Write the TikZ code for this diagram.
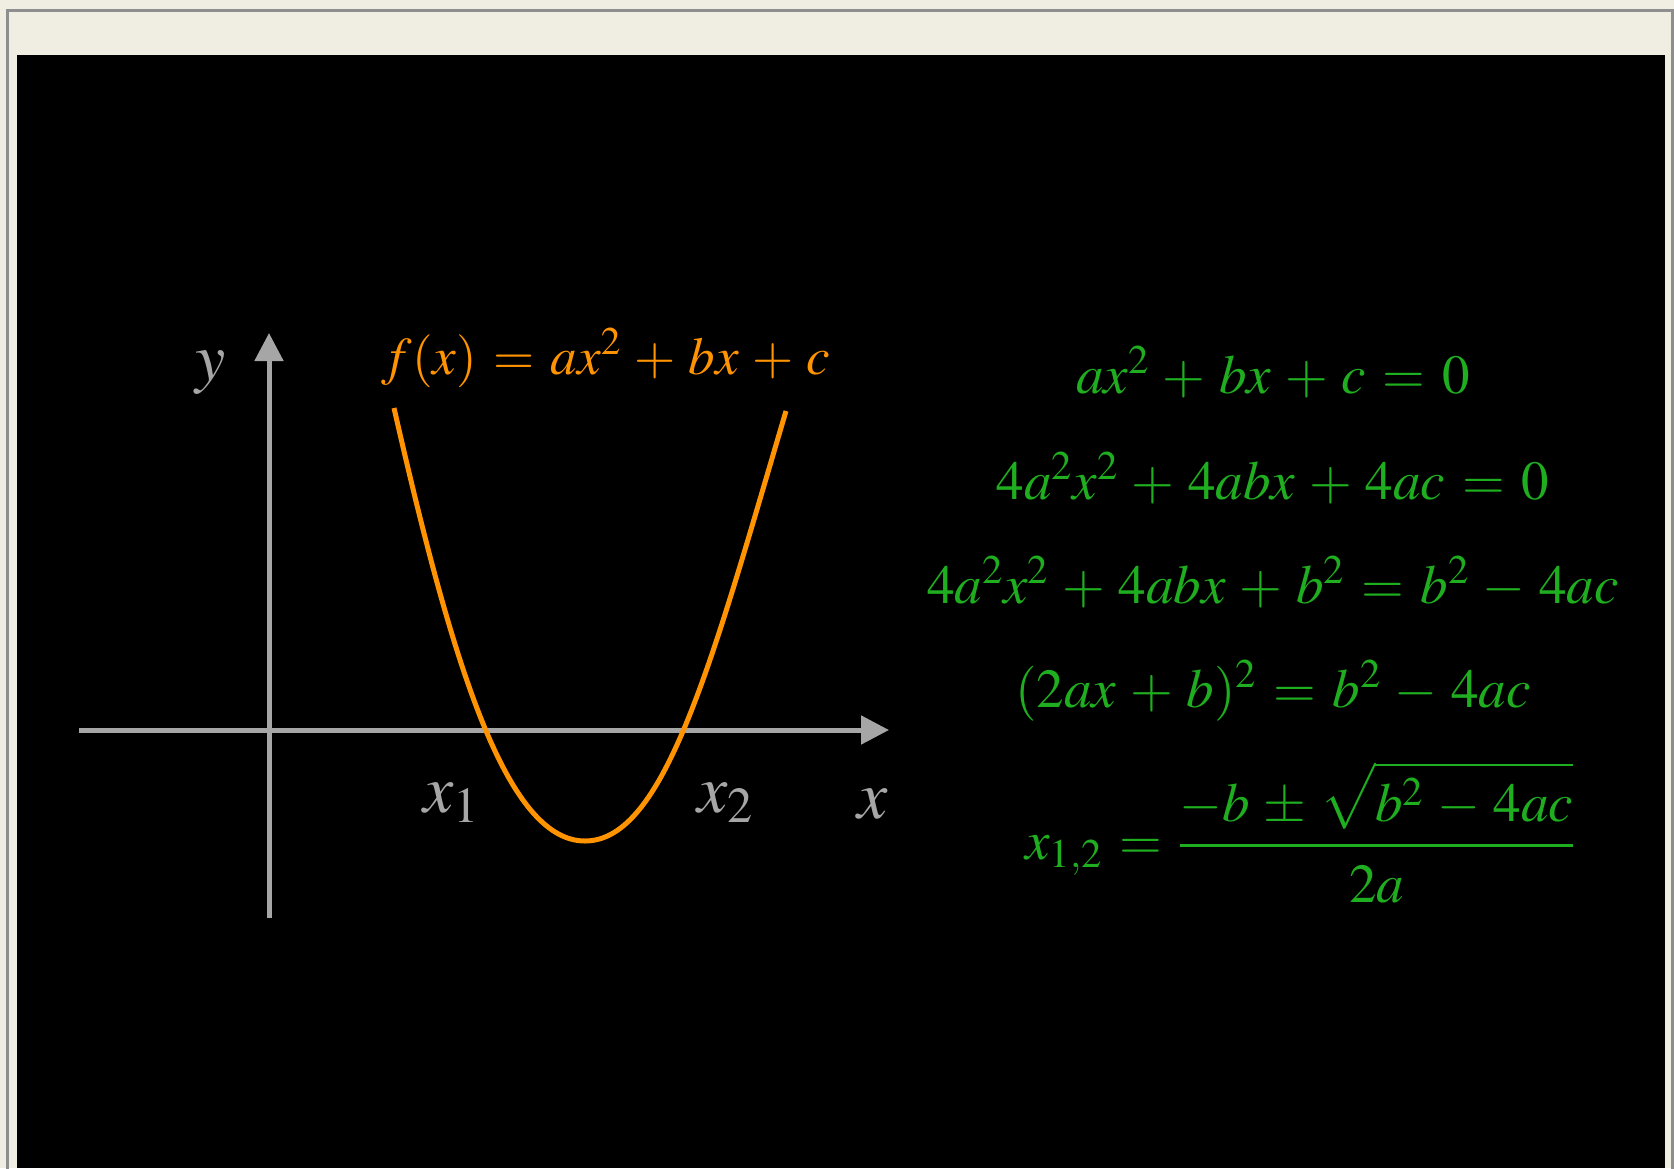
\documentclass[tikz,border=0pt]{standalone}
\usepackage{amsmath}
\usepackage{mathptmx}
\usepackage{tikz}
\usepackage{xcolor}
\usetikzlibrary{arrows.meta,positioning}
\definecolor{paper}{HTML}{F0EDE3}
\definecolor{frameline}{HTML}{8E8E8E}
\definecolor{axisgray}{HTML}{A6A6A6}
\definecolor{parab}{HTML}{FF9400}
\definecolor{eqgreen}{HTML}{1FAE1F}
% wider math spacing, as on the slide
\newcommand{\widemath}{\medmuskip=4.5mu\relax\thickmuskip=5.5mu\relax}

\begin{document}
\begin{tikzpicture}[
  x=1pt,y=-1pt,
  axis/.style={line width=5pt,draw=axisgray,-{Triangle[length=28pt,width=28pt]}},
  curve/.style={line width=5pt,draw=parab},
  lbl/.style={text=axisgray,inner sep=0pt,anchor=base,font=\fontsize{68}{72}\selectfont},
  eq/.style={text=eqgreen,inner sep=0pt,anchor=base,font=\fontsize{55}{60}\selectfont\widemath}
]
\useasboundingbox (0,0) rectangle (1674,1168);
% page and slide
\fill[paper] (0,0) rectangle (1674,1168);
\draw[frameline,line width=3pt] (7,1170) -- (7,10.5) -- (1672.5,10.5) -- (1672.5,1170);
\fill[black] (17,55) rectangle (1665,1168);

% axes
\coordinate (O) at (269,730);
\draw[axis] (O |- 0,918) -- (O |- 0,333);
\draw[axis] (79,730) -- (889,730);

% parabola
\draw[curve] (394,408) .. controls (451,658) and (505,841) .. (585,841)
  .. controls (665,841) and (712,661) .. (786,411);

% labels
\node[lbl] (ylab) at (211,380) {$y$};
\node[lbl] (xlab) at (873,818) {$x$};
\node[lbl] (xone) at (451,812) {$x_1$};
\node[lbl] (xtwo) at (725,812) {$x_2$};
\node[eq,text=parab,font=\fontsize{53}{60}\selectfont\widemath] (flab) at (606,374) {$f(x) = ax^2 + bx + c$};

% derivation
\node[eq] (eqa) at (1273,393) {$ax^2 + bx + c = 0$};
\node[eq] (eqb) at (1273,499) {$4a^2x^2 + 4abx + 4ac = 0$};
\node[eq] (eqc) at (1273,603) {$4a^2x^2 + 4abx + b^2 = b^2 - 4ac$};
\node[eq] (eqd) at (1273,707) {$(2ax + b)^2 = b^2 - 4ac$};
\node[eq] (eqe) at (1300,859) {$x_{1,2} = \genfrac{}{}{3pt}{0}{-b \pm \sqrt{\rule{0pt}{50pt}b^2 - 4ac}\rule[-12pt]{0pt}{12pt}}{\rule{0pt}{47pt}2a}$};
\end{tikzpicture}
\end{document}
